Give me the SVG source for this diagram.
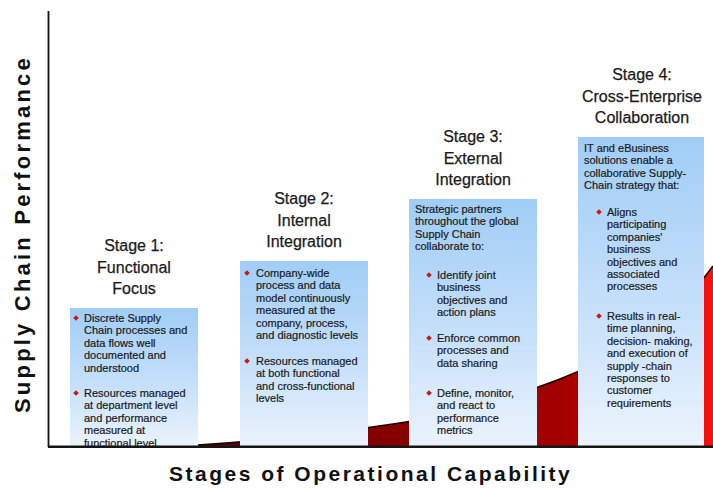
<svg xmlns="http://www.w3.org/2000/svg" width="713" height="489" viewBox="0 0 713 489">
  <style>
    .title { font-family: "Liberation Sans", Arial, sans-serif; font-size: 16px; fill: #1a1a1a; stroke: #1a1a1a; stroke-width: 0.25px; text-anchor: middle; }
    .body { font-family: "Liberation Sans", Arial, sans-serif; font-size: 11px; fill: #1a1a1a; stroke: #1a1a1a; stroke-width: 0.2px; }
    .axis { font-family: "Liberation Sans", Arial, sans-serif; font-weight: bold; fill: #111; }
    .box { fill: url(#boxFill); }
    .bullet { fill: #d01515; }
  </style>
  <defs>
    <linearGradient id="boxFill" x1="0" y1="0" x2="0" y2="1">
      <stop offset="0" stop-color="#a0cdf6"/>
      <stop offset="0.55" stop-color="#c6e0fa"/>
      <stop offset="1" stop-color="#ecf4fc"/>
    </linearGradient>
    <linearGradient id="redFill" gradientUnits="userSpaceOnUse" x1="198" y1="0" x2="713" y2="0">
      <stop offset="0" stop-color="#5e0000"/>
      <stop offset="0.33" stop-color="#820000"/>
      <stop offset="0.7" stop-color="#a30000"/>
      <stop offset="0.95" stop-color="#e00000"/>
      <stop offset="1" stop-color="#ff1010"/>
    </linearGradient>
    <clipPath id="plotClip">
      <rect x="48" y="0" width="665" height="446"/>
    </clipPath>
    <path id="dia" d="M0,-2.8 L2.8,0 L0,2.8 L-2.8,0 Z"/>
  </defs>

  <rect width="713" height="489" fill="#ffffff"/>

  <!-- performance curve -->
  <g id="curve">
    <path d="M198,446 L198,445 C280,440 340,432 400,423 C460,414 510,398 560,379 C620,356 672,322 713,266 L713,446 Z" fill="url(#redFill)"/>
    <path d="M198,445 C280,440 340,432 400,423 C460,414 510,398 560,379 C620,356 672,322 713,266" fill="none" stroke="#1a0000" stroke-width="1.6"/>
  </g>

  <g clip-path="url(#plotClip)">
    <!-- Stage 1 -->
    <g id="stage1">
      <text class="title" x="134" y="251">Stage 1:</text>
      <text class="title" x="134" y="273">Functional</text>
      <text class="title" x="134" y="294">Focus</text>
      <rect class="box" x="70" y="308" width="128" height="140"/>
      <use href="#dia" class="bullet" x="76" y="318"/>
      <text class="body" x="84" y="322">Discrete Supply</text>
      <text class="body" x="84" y="334.4">Chain processes and</text>
      <text class="body" x="84" y="346.8">data flows well</text>
      <text class="body" x="84" y="359.2">documented and</text>
      <text class="body" x="84" y="371.6">understood</text>
      <use href="#dia" class="bullet" x="76" y="393"/>
      <text class="body" x="84" y="397">Resources managed</text>
      <text class="body" x="84" y="409.4">at department level</text>
      <text class="body" x="84" y="421.8">and performance</text>
      <text class="body" x="84" y="434.2">measured at</text>
      <text class="body" x="84" y="446.6">functional level</text>
    </g>

    <!-- Stage 2 -->
    <g id="stage2">
      <text class="title" x="304" y="204">Stage 2:</text>
      <text class="title" x="304" y="226">Internal</text>
      <text class="title" x="304" y="247">Integration</text>
      <rect class="box" x="240" y="261" width="128" height="187"/>
      <use href="#dia" class="bullet" x="247" y="273"/>
      <text class="body" x="256" y="277">Company-wide</text>
      <text class="body" x="256" y="289.4">process and data</text>
      <text class="body" x="256" y="301.8">model continuously</text>
      <text class="body" x="256" y="314.2">measured at the</text>
      <text class="body" x="256" y="326.6">company, process,</text>
      <text class="body" x="256" y="339">and diagnostic levels</text>
      <use href="#dia" class="bullet" x="247" y="361"/>
      <text class="body" x="256" y="365">Resources managed</text>
      <text class="body" x="256" y="377.4">at both functional</text>
      <text class="body" x="256" y="389.8">and cross-functional</text>
      <text class="body" x="256" y="402.2">levels</text>
    </g>

    <!-- Stage 3 -->
    <g id="stage3">
      <text class="title" x="473" y="142">Stage 3:</text>
      <text class="title" x="473" y="164">External</text>
      <text class="title" x="473" y="185">Integration</text>
      <rect class="box" x="409" y="199" width="128" height="249"/>
      <text class="body" x="415" y="213">Strategic partners</text>
      <text class="body" x="415" y="225.4">throughout the global</text>
      <text class="body" x="415" y="237.8">Supply Chain</text>
      <text class="body" x="415" y="250.2">collaborate to:</text>
      <use href="#dia" class="bullet" x="429" y="275"/>
      <text class="body" x="437" y="279">Identify joint</text>
      <text class="body" x="437" y="291.4">business</text>
      <text class="body" x="437" y="303.8">objectives and</text>
      <text class="body" x="437" y="316.2">action plans</text>
      <use href="#dia" class="bullet" x="429" y="338"/>
      <text class="body" x="437" y="342">Enforce common</text>
      <text class="body" x="437" y="354.4">processes and</text>
      <text class="body" x="437" y="366.8">data sharing</text>
      <use href="#dia" class="bullet" x="429" y="393"/>
      <text class="body" x="437" y="397">Define, monitor,</text>
      <text class="body" x="437" y="409.4">and react to</text>
      <text class="body" x="437" y="421.8">performance</text>
      <text class="body" x="437" y="434.2">metrics</text>
    </g>

    <!-- Stage 4 -->
    <g id="stage4">
      <text class="title" x="642" y="80">Stage 4:</text>
      <text class="title" x="642" y="102">Cross-Enterprise</text>
      <text class="title" x="642" y="123">Collaboration</text>
      <rect class="box" x="578" y="137" width="126" height="311"/>
      <text class="body" x="584" y="152">IT and eBusiness</text>
      <text class="body" x="584" y="164.4">solutions enable a</text>
      <text class="body" x="584" y="176.8">collaborative Supply-</text>
      <text class="body" x="584" y="189.2">Chain strategy that:</text>
      <use href="#dia" class="bullet" x="599" y="212"/>
      <text class="body" x="607" y="216">Aligns</text>
      <text class="body" x="607" y="228.4">participating</text>
      <text class="body" x="607" y="240.8">companies'</text>
      <text class="body" x="607" y="253.2">business</text>
      <text class="body" x="607" y="265.6">objectives and</text>
      <text class="body" x="607" y="278">associated</text>
      <text class="body" x="607" y="290.4">processes</text>
      <use href="#dia" class="bullet" x="599" y="316"/>
      <text class="body" x="607" y="320">Results in real-</text>
      <text class="body" x="607" y="332.4">time planning,</text>
      <text class="body" x="607" y="344.8">decision- making,</text>
      <text class="body" x="607" y="357.2">and execution of</text>
      <text class="body" x="607" y="369.6">supply -chain</text>
      <text class="body" x="607" y="382">responses to</text>
      <text class="body" x="607" y="394.4">customer</text>
      <text class="body" x="607" y="406.8">requirements</text>
    </g>
  </g>

  <!-- axes -->
  <g id="axes">
    <line x1="48.5" y1="11" x2="48.5" y2="447" stroke="#111" stroke-width="1.8"/>
    <line x1="48" y1="446.8" x2="713" y2="446.8" stroke="#151515" stroke-width="2.6"/>
    <text class="axis" font-size="22" letter-spacing="3.2" transform="translate(30,413) rotate(-90)">Supply Chain Performance</text>
    <text class="axis" font-size="21" letter-spacing="2.5" x="169" y="481">Stages of Operational Capability</text>
  </g>
</svg>
